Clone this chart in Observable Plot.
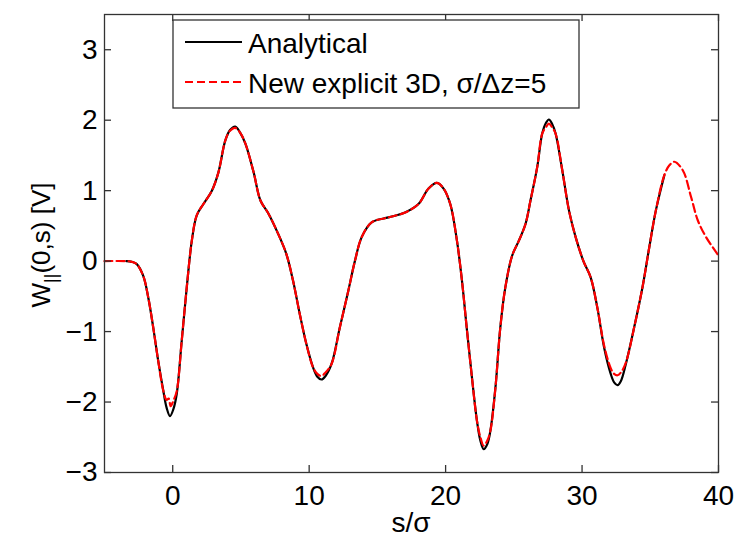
<!DOCTYPE html>
<html>
<head>
<meta charset="utf-8">
<script src="https://cdn.jsdelivr.net/npm/d3@7"></script>
<script src="https://cdn.jsdelivr.net/npm/@observablehq/plot@0.6"></script>
<style>
  html, body { margin: 0; padding: 0; background: white; }
  #chart { width: 738px; height: 541px; }
</style>
</head>
<body>
<div id="chart"></div>
<script>
// Analytical wake (black solid)
const sAnalytical = [-3.4, -3.0, -2.65, -2.16, -1.79, -1.43, -1.06, -0.69, -0.45, -0.2, 0.05, 0.29, 0.66, 1.03, 1.4, 1.76, 2.25, 2.87, 3.35, 3.85, 4.2, 4.58, 4.95, 5.32, 5.93, 6.43, 7.03, 7.72, 8.33, 8.82, 9.31, 9.8, 10.29, 10.6, 10.9, 11.2, 11.64, 12.25, 12.87, 13.35, 13.85, 14.58, 15.81, 17.03, 18.01, 18.75, 19.36, 19.85, 20.34, 20.83, 21.2, 21.57, 21.93, 22.3, 22.55, 22.79, 23.05, 23.28, 23.65, 24.01, 24.38, 24.88, 25.37, 25.86, 26.22, 26.71, 27.08, 27.35, 27.57, 27.8, 28.06, 28.55, 29.04, 29.53, 30.1, 30.63, 31.12, 31.62, 32.1, 32.35, 32.6, 32.85, 33.21, 33.82, 34.43, 34.93, 35.41, 36.03];
const wAnalytical = [0, -0.01, -0.04, -0.21, -0.52, -0.94, -1.42, -1.84, -2.08, -2.2, -2.1, -1.89, -1.13, -0.37, 0.29, 0.65, 0.81, 1.0, 1.26, 1.71, 1.86, 1.91, 1.82, 1.67, 1.26, 0.86, 0.67, 0.39, 0.10, -0.28, -0.75, -1.18, -1.51, -1.64, -1.68, -1.63, -1.46, -0.94, -0.42, 0.0, 0.34, 0.55, 0.62, 0.69, 0.81, 1.03, 1.11, 1.03, 0.81, 0.29, -0.28, -0.99, -1.65, -2.27, -2.55, -2.67, -2.6, -2.41, -1.8, -0.94, -0.37, 0.08, 0.29, 0.53, 0.86, 1.33, 1.81, 1.96, 2.01, 1.95, 1.81, 1.29, 0.72, 0.34, 0.0, -0.23, -0.66, -1.23, -1.6, -1.72, -1.76, -1.7, -1.46, -0.94, -0.37, 0.2, 0.72, 1.22];

// New explicit 3D, sigma/dz = 5 (red dashed)
const sNumerical = [-5, -3.4, -3.0, -2.65, -2.16, -1.79, -1.43, -1.06, -0.69, -0.45, -0.3, -0.15, 0.05, 0.29, 0.66, 1.03, 1.4, 1.76, 2.25, 2.87, 3.35, 3.85, 4.2, 4.58, 4.95, 5.32, 5.93, 6.43, 7.03, 7.72, 8.33, 8.82, 9.31, 9.8, 10.29, 10.6, 10.9, 11.2, 11.64, 12.25, 12.87, 13.35, 13.85, 14.58, 15.81, 17.03, 18.01, 18.75, 19.36, 19.85, 20.34, 20.83, 21.2, 21.57, 21.93, 22.3, 22.55, 22.79, 23.05, 23.28, 23.65, 24.01, 24.38, 24.88, 25.37, 25.86, 26.22, 26.71, 27.08, 27.35, 27.57, 27.8, 28.06, 28.55, 29.04, 29.53, 30.1, 30.63, 31.12, 31.62, 32.1, 32.35, 32.6, 32.85, 33.21, 33.82, 34.43, 34.93, 35.41, 36.03, 36.4, 36.76, 37.38, 37.99, 38.48, 39.09, 40];
const wNumerical = [0, 0, -0.01, -0.04, -0.21, -0.52, -0.94, -1.42, -1.84, -1.97, -1.95, -2.06, -1.98, -1.85, -1.13, -0.37, 0.29, 0.65, 0.81, 1.0, 1.26, 1.71, 1.85, 1.89, 1.82, 1.67, 1.26, 0.86, 0.67, 0.39, 0.10, -0.28, -0.75, -1.18, -1.51, -1.6, -1.63, -1.58, -1.46, -0.94, -0.42, 0.0, 0.34, 0.55, 0.62, 0.69, 0.81, 1.03, 1.11, 1.03, 0.81, 0.29, -0.28, -0.99, -1.65, -2.27, -2.5, -2.62, -2.55, -2.41, -1.8, -0.94, -0.37, 0.08, 0.29, 0.53, 0.86, 1.33, 1.81, 1.9, 1.95, 1.9, 1.81, 1.29, 0.72, 0.34, 0.0, -0.23, -0.66, -1.2, -1.52, -1.6, -1.62, -1.58, -1.44, -0.94, -0.37, 0.2, 0.72, 1.22, 1.36, 1.41, 1.29, 0.91, 0.58, 0.34, 0.08];

const xTicks = [0, 10, 20, 30, 40];
const yTicks = [-3, -2, -1, 0, 1, 2, 3];
const legendLabels = ["Analytical", "New explicit 3D, \u03c3/\u0394z=5"];

const analytical = sAnalytical.map((s, i) => ({s, w: wAnalytical[i]}));
const numerical = sNumerical.map((s, i) => ({s, w: wNumerical[i]}));

const W = 738, H = 541, mL = 104, mR = 20, mT = 14, mB = 69;
const tickLen = 7;
const frameW = W - mL - mR, frameH = H - mT - mB;

const axisColor = "#333";
const font = "'Liberation Sans', Arial, sans-serif";
const fs = 28;

const plot = Plot.plot({
  width: W,
  height: H,
  marginLeft: mL,
  marginRight: mR,
  marginTop: mT,
  marginBottom: mB,
  style: {fontFamily: font, fontSize: fs + "px", background: "white", color: "black"},
  x: {domain: [-5, 40]},
  y: {domain: [-3, 3.5]},
  marks: [
    Plot.line(analytical, {x: "s", y: "w", stroke: "black", strokeWidth: 2.2, curve: "catmull-rom"}),
    Plot.line(numerical, {x: "s", y: "w", stroke: "#ff0000", strokeWidth: 2.2, strokeDasharray: "8,4", curve: "catmull-rom"}),
    // inward ticks on all four sides
    Plot.tickX(xTicks, {x: d => d, insetTop: frameH - tickLen, stroke: axisColor, strokeWidth: 1.3}),
    Plot.tickX(xTicks, {x: d => d, insetBottom: frameH - tickLen, stroke: axisColor, strokeWidth: 1.3}),
    Plot.tickY(yTicks, {y: d => d, insetRight: frameW - tickLen, stroke: axisColor, strokeWidth: 1.3}),
    Plot.tickY(yTicks, {y: d => d, insetLeft: frameW - tickLen, stroke: axisColor, strokeWidth: 1.3}),
    Plot.frame({stroke: axisColor, strokeWidth: 1.3}),
    // tick labels
    Plot.axisX(xTicks, {anchor: "bottom", tickSize: 0, tickPadding: 13, label: null, fill: "black", tickFormat: d3.format("d")}),
    Plot.axisY(yTicks, {anchor: "left", tickSize: 0, tickPadding: 7, label: null, fill: "black", tickFormat: d3.format("d")})
  ]
});

document.getElementById("chart").appendChild(plot);

const svg = d3.select(plot);

// x axis label
svg.append("text")
  .attr("x", 411).attr("y", 532)
  .attr("text-anchor", "middle")
  .attr("font-family", font).attr("font-size", fs).attr("fill", "black")
  .text("s/\u03c3");

// y axis label with subscript
const yl = svg.append("text")
  .attr("transform", "translate(50,245) rotate(-90)")
  .attr("text-anchor", "middle")
  .attr("font-family", font).attr("font-size", 26).attr("fill", "black");
yl.append("tspan").text("W");
yl.append("tspan").attr("font-size", 18).attr("dy", 7).text("||");
yl.append("tspan").attr("dy", -7).text("(0,s) [V]");

// legend
const lg = svg.append("g");
lg.append("rect").attr("x", 173).attr("y", 20).attr("width", 406).attr("height", 88)
  .attr("fill", "white").attr("stroke", axisColor).attr("stroke-width", 1.3);
lg.append("line").attr("x1", 185).attr("x2", 242).attr("y1", 42).attr("y2", 42)
  .attr("stroke", "black").attr("stroke-width", 2.2);
lg.append("line").attr("x1", 185).attr("x2", 242).attr("y1", 82).attr("y2", 82)
  .attr("stroke", "#ff0000").attr("stroke-width", 2.2).attr("stroke-dasharray", "8,4");
legendLabels.forEach((t, i) => {
  lg.append("text").attr("x", 248).attr("y", 53 + i * 40)
    .attr("text-anchor", "start")
    .attr("font-family", font).attr("font-size", fs).attr("fill", "black").text(t);
});
</script>
</body>
</html>
